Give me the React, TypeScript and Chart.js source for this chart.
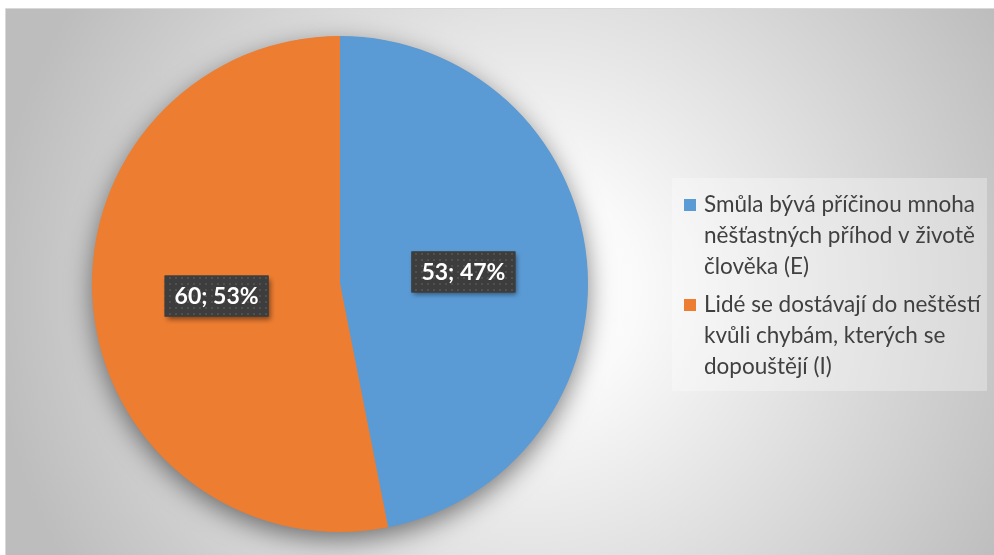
import React, { useEffect, useRef } from "react";
import { Chart, registerables } from "chart.js";

Chart.register(...registerables);

const categories: string[][] = [
  ["Smůla bývá příčinou mnoha", "něšťastných příhod v životě", "člověka (E)"],
  ["Lidé se dostávají do neštěstí", "kvůli chybám, kterých se", "dopouštějí (I)"],
];
const values: number[] = [53, 60];
const percentLabels: string[] = ["47%", "53%"];
const colors: string[] = ["#5b9bd5", "#ed7d31"];

function makePattern(ctx: CanvasRenderingContext2D) {
  const c = document.createElement("canvas");
  c.width = 6;
  c.height = 6;
  const p = c.getContext("2d")!;
  p.fillStyle = "#3d3d3d";
  p.fillRect(0, 0, 6, 6);
  p.fillStyle = "#505050";
  p.fillRect(1, 1, 2, 2);
  return ctx.createPattern(c, "repeat")!;
}

const bgPlugin = {
  id: "bgPlugin",
  beforeDraw(chart: any) {
    const ctx = chart.ctx as CanvasRenderingContext2D;
    const w = chart.width, h = chart.height;
    ctx.save();
    ctx.fillStyle = "#ffffff";
    ctx.fillRect(0, 0, w, h);
    const g = ctx.createRadialGradient(530, 290, 0, 530, 290, 540);
    g.addColorStop(0, "#ffffff");
    g.addColorStop(0.2, "#fafafa");
    g.addColorStop(1, "#bdbdbd");
    ctx.fillStyle = g;
    ctx.fillRect(5, 9, w - 5, h - 9);
    ctx.strokeStyle = "#d9d9d9";
    ctx.lineWidth = 1;
    ctx.beginPath();
    ctx.moveTo(5.5, h);
    ctx.lineTo(5.5, 8.5);
    ctx.lineTo(w, 8.5);
    ctx.stroke();
    ctx.restore();
  },
  beforeDatasetsDraw(chart: any) {
    const ctx = chart.ctx as CanvasRenderingContext2D;
    const arc = chart.getDatasetMeta(0).data[0];
    if (!arc) return;
    ctx.save();
    ctx.shadowColor = "rgba(0,0,0,0.5)";
    ctx.shadowBlur = 26;
    ctx.shadowOffsetX = 0;
    ctx.shadowOffsetY = 8;
    ctx.fillStyle = colors[1];
    ctx.beginPath();
    ctx.arc(arc.x, arc.y, arc.outerRadius - 0.5, 0, Math.PI * 2);
    ctx.fill();
    ctx.restore();
  },
  afterDatasetsDraw(chart: any) {
    const ctx = chart.ctx as CanvasRenderingContext2D;
    const meta = chart.getDatasetMeta(0);
    const pattern = makePattern(ctx);
    ctx.save();
    ctx.font = "bold 23px Lato";
    ctx.textAlign = "center";
    ctx.textBaseline = "middle";
    meta.data.forEach((el: any, i: number) => {
      const pos = el.tooltipPosition();
      const text = values[i] + "; " + percentLabels[i];
      const bw = 104, bh = 41;
      const x = pos.x - bw / 2, y = pos.y - bh / 2;
      ctx.save();
      ctx.shadowColor = "rgba(0,0,0,0.45)";
      ctx.shadowBlur = 5;
      ctx.shadowOffsetX = 2;
      ctx.shadowOffsetY = 3;
      ctx.fillStyle = "#3d3d3d";
      ctx.fillRect(x, y, bw, bh);
      ctx.restore();
      ctx.fillStyle = pattern;
      ctx.fillRect(x, y, bw, bh);
      ctx.fillStyle = "#ffffff";
      ctx.fillText(text, pos.x, pos.y + 1);
    });
    ctx.restore();

    // legend
    ctx.save();
    ctx.fillStyle = "rgba(255,255,255,0.3)";
    ctx.fillRect(672, 178, 315, 213);
    ctx.font = "22.5px Lato";
    ctx.textAlign = "left";
    ctx.textBaseline = "middle";
    let y = 205;
    categories.forEach((lines, i) => {
      ctx.fillStyle = colors[i];
      ctx.fillRect(684, y - 6, 12, 12);
      ctx.fillStyle = "#404040";
      lines.forEach((ln, j) => {
        ctx.fillText(ln, 704, y + j * 31);
      });
      y += lines.length * 31 + 7;
    });
    ctx.restore();
  },
};

export default function App() {
  const ref = useRef<HTMLCanvasElement>(null);
  useEffect(() => {
    const chart = new Chart(ref.current!, {
      type: "pie",
      data: {
        labels: categories.map((l) => l.join(" ")),
        datasets: [
          {
            data: values,
            backgroundColor: colors,
            borderWidth: 0,
          },
        ],
      },
      options: {
        animation: false,
        responsive: false,
        layout: { padding: { left: 92, right: 406, top: 36, bottom: 23 } },
        plugins: {
          legend: { display: false },
          tooltip: { enabled: false },
        },
      },
      plugins: [bgPlugin],
    });
    return () => chart.destroy();
  }, []);
  return (
    <div style={{ position: "absolute", left: 0, top: 0, width: 994, height: 555 }}>
      <canvas ref={ref} width={994} height={555} style={{ display: "block" }} />
    </div>
  );
}
